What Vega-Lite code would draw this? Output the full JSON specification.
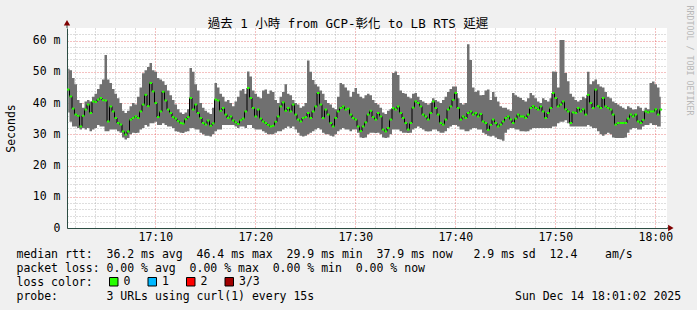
{
"$schema":"https://vega.github.io/schema/vega-lite/v6.json",
"width":600,"height":200,
"autosize":"none",
"padding":{"left":67,"top":28,"right":30,"bottom":82},
"background":"#f0f0f0",
"title":{"text":"過去 1 小時 from GCP-彰化 to LB RTS 延遲","font":"DejaVu Sans Mono, Noto Sans CJK TC","fontSize":12.5,"fontWeight":"normal","color":"#000000","anchor":"middle","dx":-19,"dy":26,"offset":1},
"config":{
 "view":{"fill":"#ffffff","stroke":null},
 "axis":{"labelFont":"DejaVu Sans Mono","labelFontSize":11.5,"labelColor":"#000000","titleFont":"DejaVu Sans Mono","titleFontSize":11.5,"titleFontWeight":"normal","titleColor":"#000000","ticks":false,"tickSize":0,"domainColor":"#2c4d43","labelOverlap":false,"labelFlush":false,"gridDash":[1,2],"gridOpacity":0.6}
},
"data":{"values":[
{"t":1.2917,"lo":37,"hi":51,"med":44.3,"loss":"0"},
{"t":1.5417,"lo":34,"hi":50.5,"med":42.1,"loss":"0"},
{"t":1.7917,"lo":32.5,"hi":48,"med":38.2,"loss":"0"},
{"t":2.0417,"lo":32.5,"hi":46,"med":36.3,"loss":"0"},
{"t":2.2917,"lo":32,"hi":41,"med":35.9,"loss":"0"},
{"t":2.5417,"lo":31.5,"hi":40,"med":32.5,"loss":"0"},
{"t":2.7917,"lo":32,"hi":38.5,"med":35.9,"loss":"0"},
{"t":3.0417,"lo":31.5,"hi":40.5,"med":37.9,"loss":"0"},
{"t":3.2917,"lo":32,"hi":41,"med":39.5,"loss":"0"},
{"t":3.5417,"lo":31,"hi":40.5,"med":36.8,"loss":"0"},
{"t":3.7917,"lo":31.5,"hi":42,"med":40.5,"loss":"0"},
{"t":4.0417,"lo":32,"hi":43,"med":40.3,"loss":"0"},
{"t":4.2917,"lo":33,"hi":44.5,"med":41.1,"loss":"0"},
{"t":4.5417,"lo":32.5,"hi":46,"med":41.6,"loss":"0"},
{"t":4.7917,"lo":32.5,"hi":47.5,"med":40.9,"loss":"0"},
{"t":5.0417,"lo":31,"hi":55.4,"med":40.8,"loss":"0"},
{"t":5.2917,"lo":31,"hi":47.5,"med":34.1,"loss":"0"},
{"t":5.5417,"lo":31.5,"hi":46.4,"med":38.9,"loss":"0"},
{"t":5.7917,"lo":31.5,"hi":44.5,"med":37.3,"loss":"0"},
{"t":6.0417,"lo":31.5,"hi":43,"med":35.2,"loss":"0"},
{"t":6.2917,"lo":31,"hi":41.5,"med":33.6,"loss":"0"},
{"t":6.5417,"lo":30.5,"hi":40,"med":33.1,"loss":"0"},
{"t":6.7917,"lo":29,"hi":37.5,"med":30.9,"loss":"0"},
{"t":7.0417,"lo":28.3,"hi":36.8,"med":29.9,"loss":"0"},
{"t":7.2917,"lo":28.8,"hi":37.5,"med":30.9,"loss":"0"},
{"t":7.5417,"lo":30,"hi":39,"med":34.7,"loss":"0"},
{"t":7.7917,"lo":30.5,"hi":40,"med":35.2,"loss":"0"},
{"t":8.0417,"lo":30.4,"hi":39.5,"med":35.7,"loss":"0"},
{"t":8.2917,"lo":30.5,"hi":42,"med":35.2,"loss":"0"},
{"t":8.5417,"lo":31.5,"hi":45,"med":37.3,"loss":"0"},
{"t":8.7917,"lo":32,"hi":49.5,"med":39.5,"loss":"0"},
{"t":9.0417,"lo":33,"hi":50.5,"med":42.6,"loss":"0"},
{"t":9.2917,"lo":32.5,"hi":51.5,"med":39.0,"loss":"0"},
{"t":9.5417,"lo":33.5,"hi":52.8,"med":46.4,"loss":"0"},
{"t":9.7917,"lo":33.5,"hi":50.5,"med":43.7,"loss":"0"},
{"t":10.0417,"lo":34,"hi":50,"med":40.0,"loss":"0"},
{"t":10.2917,"lo":33,"hi":48,"med":35.5,"loss":"0"},
{"t":10.5417,"lo":33,"hi":47.5,"med":37.3,"loss":"0"},
{"t":10.7917,"lo":33.5,"hi":47,"med":43.6,"loss":"0"},
{"t":11.0417,"lo":33,"hi":45.8,"med":40.8,"loss":"0"},
{"t":11.2917,"lo":32.5,"hi":44,"med":37.9,"loss":"0"},
{"t":11.5417,"lo":32.5,"hi":42.5,"med":36.8,"loss":"0"},
{"t":11.7917,"lo":32,"hi":41,"med":35.5,"loss":"0"},
{"t":12.0417,"lo":31,"hi":39.5,"med":35.0,"loss":"0"},
{"t":12.2917,"lo":30.8,"hi":38,"med":34.2,"loss":"0"},
{"t":12.5417,"lo":30.5,"hi":37,"med":33.6,"loss":"0"},
{"t":12.7917,"lo":30.4,"hi":36.5,"med":33.4,"loss":"0"},
{"t":13.0417,"lo":30.8,"hi":37,"med":34.8,"loss":"0"},
{"t":13.2917,"lo":31,"hi":38,"med":35.5,"loss":"0"},
{"t":13.5417,"lo":32,"hi":51.2,"med":41.6,"loss":"0"},
{"t":13.7917,"lo":32,"hi":50,"med":37.9,"loss":"0"},
{"t":14.0417,"lo":31.5,"hi":46,"med":39.5,"loss":"0"},
{"t":14.2917,"lo":31.5,"hi":44,"med":36.8,"loss":"0"},
{"t":14.5417,"lo":30.5,"hi":40,"med":35.2,"loss":"0"},
{"t":14.7917,"lo":30,"hi":38.5,"med":33.6,"loss":"0"},
{"t":15.0417,"lo":29.5,"hi":37.5,"med":33.1,"loss":"0"},
{"t":15.2917,"lo":29.5,"hi":37,"med":34.4,"loss":"0"},
{"t":15.5417,"lo":29.3,"hi":36.5,"med":32.7,"loss":"0"},
{"t":15.7917,"lo":30,"hi":38.5,"med":33.5,"loss":"0"},
{"t":16.0417,"lo":31,"hi":46.4,"med":41.1,"loss":"0"},
{"t":16.2917,"lo":31.5,"hi":45,"med":40.8,"loss":"0"},
{"t":16.5417,"lo":31.5,"hi":43,"med":37.5,"loss":"0"},
{"t":16.7917,"lo":33,"hi":42,"med":38.4,"loss":"0"},
{"t":17.0417,"lo":33,"hi":40.5,"med":36.3,"loss":"0"},
{"t":17.2917,"lo":33,"hi":41,"med":35.2,"loss":"0"},
{"t":17.5417,"lo":33,"hi":40,"med":35.7,"loss":"0"},
{"t":17.7917,"lo":33,"hi":39,"med":34.4,"loss":"0"},
{"t":18.0417,"lo":32.5,"hi":40.5,"med":33.8,"loss":"0"},
{"t":18.2917,"lo":32,"hi":42,"med":33.3,"loss":"0"},
{"t":18.5417,"lo":32.5,"hi":44,"med":34.5,"loss":"0"},
{"t":18.7917,"lo":32.5,"hi":44.5,"med":35.0,"loss":"0"},
{"t":19.0417,"lo":32,"hi":43,"med":37.3,"loss":"0"},
{"t":19.2917,"lo":33,"hi":50.1,"med":44.8,"loss":"0"},
{"t":19.5417,"lo":33,"hi":48.5,"med":41.6,"loss":"0"},
{"t":19.7917,"lo":32,"hi":44,"med":38.4,"loss":"0"},
{"t":20.0417,"lo":31.5,"hi":43,"med":35.7,"loss":"0"},
{"t":20.2917,"lo":31.5,"hi":42,"med":37.9,"loss":"0"},
{"t":20.5417,"lo":31.5,"hi":41.5,"med":35.0,"loss":"0"},
{"t":20.7917,"lo":31,"hi":44,"med":34.1,"loss":"0"},
{"t":21.0417,"lo":30.5,"hi":44.3,"med":33.6,"loss":"0"},
{"t":21.2917,"lo":30,"hi":43,"med":33.0,"loss":"0"},
{"t":21.5417,"lo":30,"hi":44,"med":32.5,"loss":"0"},
{"t":21.7917,"lo":30,"hi":43.5,"med":32.7,"loss":"0"},
{"t":22.0417,"lo":30.5,"hi":41,"med":34.0,"loss":"0"},
{"t":22.2917,"lo":31,"hi":40,"med":35.7,"loss":"0"},
{"t":22.5417,"lo":31,"hi":42,"med":38.9,"loss":"0"},
{"t":22.7917,"lo":31.5,"hi":43.5,"med":40.2,"loss":"0"},
{"t":23.0417,"lo":32,"hi":46,"med":37.5,"loss":"0"},
{"t":23.2917,"lo":32.5,"hi":43,"med":38.4,"loss":"0"},
{"t":23.5417,"lo":32,"hi":42.5,"med":37.3,"loss":"0"},
{"t":23.7917,"lo":32.5,"hi":41,"med":39.5,"loss":"0"},
{"t":24.0417,"lo":31.5,"hi":40,"med":36.3,"loss":"0"},
{"t":24.2917,"lo":30.5,"hi":39.5,"med":34.7,"loss":"0"},
{"t":24.5417,"lo":29.5,"hi":38.5,"med":34.1,"loss":"0"},
{"t":24.7917,"lo":29.3,"hi":39,"med":35.2,"loss":"0"},
{"t":25.0417,"lo":29.5,"hi":40,"med":35.5,"loss":"0"},
{"t":25.2917,"lo":30,"hi":53.6,"med":36.8,"loss":"0"},
{"t":25.5417,"lo":30.5,"hi":50,"med":35.2,"loss":"0"},
{"t":25.7917,"lo":31,"hi":47.4,"med":37.3,"loss":"0"},
{"t":26.0417,"lo":31.5,"hi":46,"med":38.9,"loss":"0"},
{"t":26.2917,"lo":32,"hi":45.3,"med":43.2,"loss":"0"},
{"t":26.5417,"lo":31.5,"hi":44,"med":39.5,"loss":"0"},
{"t":26.7917,"lo":30.5,"hi":43,"med":35.2,"loss":"0"},
{"t":27.0417,"lo":30,"hi":41,"med":37.9,"loss":"0"},
{"t":27.2917,"lo":30,"hi":40,"med":36.3,"loss":"0"},
{"t":27.5417,"lo":29.5,"hi":39.5,"med":33.6,"loss":"0"},
{"t":27.7917,"lo":29.3,"hi":38.5,"med":32.5,"loss":"0"},
{"t":28.0417,"lo":30,"hi":38,"med":35.2,"loss":"0"},
{"t":28.2917,"lo":31,"hi":42,"med":37.3,"loss":"0"},
{"t":28.5417,"lo":31.5,"hi":46.4,"med":38.4,"loss":"0"},
{"t":28.7917,"lo":32,"hi":46,"med":38.9,"loss":"0"},
{"t":29.0417,"lo":31.5,"hi":45,"med":37.9,"loss":"0"},
{"t":29.2917,"lo":31.5,"hi":44,"med":38.2,"loss":"0"},
{"t":29.5417,"lo":31,"hi":42,"med":36.3,"loss":"0"},
{"t":29.7917,"lo":31.5,"hi":43.5,"med":35.2,"loss":"0"},
{"t":30.0417,"lo":31.5,"hi":44.8,"med":34.7,"loss":"0"},
{"t":30.2917,"lo":30.5,"hi":43,"med":32.5,"loss":"0"},
{"t":30.5417,"lo":29,"hi":42,"med":31.0,"loss":"0"},
{"t":30.7917,"lo":28.8,"hi":41.5,"med":32.5,"loss":"0"},
{"t":31.0417,"lo":29,"hi":42.5,"med":33.8,"loss":"0"},
{"t":31.2917,"lo":30,"hi":43,"med":36.3,"loss":"0"},
{"t":31.5417,"lo":30.5,"hi":42.5,"med":37.5,"loss":"0"},
{"t":31.7917,"lo":30.5,"hi":41,"med":35.5,"loss":"0"},
{"t":32.0417,"lo":30.4,"hi":40,"med":34.7,"loss":"0"},
{"t":32.2917,"lo":30.5,"hi":39.5,"med":36.8,"loss":"0"},
{"t":32.5417,"lo":30,"hi":38.5,"med":35.7,"loss":"0"},
{"t":32.7917,"lo":29,"hi":37,"med":31.5,"loss":"0"},
{"t":33.0417,"lo":28.8,"hi":36.5,"med":30.9,"loss":"0"},
{"t":33.2917,"lo":29,"hi":37.5,"med":32.0,"loss":"0"},
{"t":33.5417,"lo":30,"hi":38,"med":34.7,"loss":"0"},
{"t":33.7917,"lo":31.5,"hi":49.6,"med":38.4,"loss":"0"},
{"t":34.0417,"lo":31.5,"hi":50.1,"med":37.9,"loss":"0"},
{"t":34.2917,"lo":31.5,"hi":49,"med":38.9,"loss":"0"},
{"t":34.5417,"lo":31,"hi":44,"med":36.8,"loss":"0"},
{"t":34.7917,"lo":30.5,"hi":43.2,"med":35.2,"loss":"0"},
{"t":35.0417,"lo":30.5,"hi":43,"med":33.6,"loss":"0"},
{"t":35.2917,"lo":30.4,"hi":42,"med":31.5,"loss":"0"},
{"t":35.5417,"lo":30.5,"hi":41.5,"med":33.6,"loss":"0"},
{"t":35.7917,"lo":31.5,"hi":43,"med":38.5,"loss":"0"},
{"t":36.0417,"lo":32,"hi":43.2,"med":40.5,"loss":"0"},
{"t":36.2917,"lo":32.5,"hi":42,"med":40.0,"loss":"0"},
{"t":36.5417,"lo":32,"hi":41,"med":38.9,"loss":"0"},
{"t":36.7917,"lo":31.5,"hi":40.5,"med":36.3,"loss":"0"},
{"t":37.0417,"lo":31,"hi":40,"med":35.7,"loss":"0"},
{"t":37.2917,"lo":30.9,"hi":39.5,"med":34.7,"loss":"0"},
{"t":37.5417,"lo":31,"hi":40,"med":36.8,"loss":"0"},
{"t":37.7917,"lo":31.5,"hi":41.5,"med":40.5,"loss":"0"},
{"t":38.0417,"lo":31.5,"hi":41,"med":38.4,"loss":"0"},
{"t":38.2917,"lo":31,"hi":40.5,"med":36.3,"loss":"0"},
{"t":38.5417,"lo":30.5,"hi":40,"med":33.6,"loss":"0"},
{"t":38.7917,"lo":30.5,"hi":41,"med":33.1,"loss":"0"},
{"t":39.0417,"lo":31,"hi":42,"med":34.7,"loss":"0"},
{"t":39.2917,"lo":32,"hi":43.5,"med":37.9,"loss":"0"},
{"t":39.5417,"lo":32.5,"hi":44.5,"med":38.9,"loss":"0"},
{"t":39.7917,"lo":33,"hi":45.3,"med":41.0,"loss":"0"},
{"t":40.0417,"lo":33,"hi":45.3,"med":43.2,"loss":"0"},
{"t":40.2917,"lo":32.5,"hi":41.5,"med":38.4,"loss":"0"},
{"t":40.5417,"lo":31.5,"hi":40,"med":34.7,"loss":"0"},
{"t":40.7917,"lo":31.5,"hi":39.5,"med":35.7,"loss":"0"},
{"t":41.0417,"lo":31,"hi":40,"med":35.2,"loss":"0"},
{"t":41.2917,"lo":31,"hi":58.8,"med":36.8,"loss":"0"},
{"t":41.5417,"lo":31.5,"hi":53.8,"med":37.3,"loss":"0"},
{"t":41.7917,"lo":32,"hi":45,"med":36.3,"loss":"0"},
{"t":42.0417,"lo":32,"hi":43.5,"med":36.8,"loss":"0"},
{"t":42.2917,"lo":31.5,"hi":44,"med":35.7,"loss":"0"},
{"t":42.5417,"lo":31.5,"hi":42.5,"med":36.5,"loss":"0"},
{"t":42.7917,"lo":30.5,"hi":42.6,"med":34.1,"loss":"0"},
{"t":43.0417,"lo":30,"hi":44,"med":33.6,"loss":"0"},
{"t":43.2917,"lo":29.5,"hi":44.3,"med":31.4,"loss":"0"},
{"t":43.5417,"lo":29.3,"hi":41,"med":33.0,"loss":"0"},
{"t":43.7917,"lo":29.5,"hi":43.5,"med":34.7,"loss":"0"},
{"t":44.0417,"lo":29,"hi":42,"med":33.6,"loss":"0"},
{"t":44.2917,"lo":28.5,"hi":40.5,"med":32.5,"loss":"0"},
{"t":44.5417,"lo":28.3,"hi":39,"med":33.1,"loss":"0"},
{"t":44.7917,"lo":27.9,"hi":38.5,"med":34.1,"loss":"0"},
{"t":45.0417,"lo":30.5,"hi":38.5,"med":35.2,"loss":"0"},
{"t":45.2917,"lo":31.5,"hi":37.9,"med":35.7,"loss":"0"},
{"t":45.5417,"lo":32,"hi":37.5,"med":34.7,"loss":"0"},
{"t":45.7917,"lo":32,"hi":43.2,"med":33.6,"loss":"0"},
{"t":46.0417,"lo":31.5,"hi":42.5,"med":35.0,"loss":"0"},
{"t":46.2917,"lo":31.5,"hi":42,"med":36.3,"loss":"0"},
{"t":46.5417,"lo":31,"hi":41.6,"med":35.7,"loss":"0"},
{"t":46.7917,"lo":31,"hi":41,"med":35.7,"loss":"0"},
{"t":47.0417,"lo":30.9,"hi":40.5,"med":35.2,"loss":"0"},
{"t":47.2917,"lo":31,"hi":41.5,"med":36.3,"loss":"0"},
{"t":47.5417,"lo":31.5,"hi":43.2,"med":38.4,"loss":"0"},
{"t":47.7917,"lo":32,"hi":42.5,"med":39.0,"loss":"0"},
{"t":48.0417,"lo":32,"hi":41.5,"med":38.4,"loss":"0"},
{"t":48.2917,"lo":32,"hi":40.5,"med":37.9,"loss":"0"},
{"t":48.5417,"lo":32,"hi":40,"med":38.9,"loss":"0"},
{"t":48.7917,"lo":32,"hi":41.5,"med":37.3,"loss":"0"},
{"t":49.0417,"lo":32,"hi":41,"med":35.2,"loss":"0"},
{"t":49.2917,"lo":32,"hi":40.5,"med":36.8,"loss":"0"},
{"t":49.5417,"lo":32,"hi":41.5,"med":38.4,"loss":"0"},
{"t":49.7917,"lo":32.5,"hi":50.1,"med":43.2,"loss":"0"},
{"t":50.0417,"lo":32.5,"hi":50,"med":41.6,"loss":"0"},
{"t":50.2917,"lo":33.5,"hi":45,"med":38.9,"loss":"0"},
{"t":50.5417,"lo":34,"hi":60.2,"med":39.5,"loss":"0"},
{"t":50.7917,"lo":34,"hi":60.2,"med":40.5,"loss":"0"},
{"t":51.0417,"lo":34.5,"hi":49.6,"med":38.0,"loss":"0"},
{"t":51.2917,"lo":33.5,"hi":47,"med":37.3,"loss":"0"},
{"t":51.5417,"lo":32.5,"hi":43,"med":33.6,"loss":"0"},
{"t":51.7917,"lo":32.5,"hi":42,"med":37.0,"loss":"0"},
{"t":52.0417,"lo":32.5,"hi":41,"med":36.8,"loss":"0"},
{"t":52.2917,"lo":32.5,"hi":40.5,"med":38.4,"loss":"0"},
{"t":52.5417,"lo":32.5,"hi":41,"med":37.3,"loss":"0"},
{"t":52.7917,"lo":32.5,"hi":42,"med":38.0,"loss":"0"},
{"t":53.0417,"lo":32.5,"hi":41.5,"med":36.3,"loss":"0"},
{"t":53.2917,"lo":33,"hi":50,"med":42.6,"loss":"0"},
{"t":53.5417,"lo":32.5,"hi":46,"med":40.0,"loss":"0"},
{"t":53.7917,"lo":32,"hi":47,"med":38.4,"loss":"0"},
{"t":54.0417,"lo":32,"hi":47.5,"med":44.3,"loss":"0"},
{"t":54.2917,"lo":31,"hi":46,"med":39.0,"loss":"0"},
{"t":54.5417,"lo":30,"hi":45.3,"med":38.4,"loss":"0"},
{"t":54.7917,"lo":29.5,"hi":45,"med":41.6,"loss":"0"},
{"t":55.0417,"lo":30,"hi":43.5,"med":38.9,"loss":"0"},
{"t":55.2917,"lo":30.5,"hi":42,"med":38.4,"loss":"0"},
{"t":55.5417,"lo":30,"hi":41.5,"med":37.9,"loss":"0"},
{"t":55.7917,"lo":29,"hi":40.5,"med":36.3,"loss":"0"},
{"t":56.0417,"lo":28.8,"hi":40,"med":33.1,"loss":"0"},
{"t":56.2917,"lo":28.8,"hi":39.5,"med":33.6,"loss":"0"},
{"t":56.5417,"lo":28.8,"hi":39,"med":33.6,"loss":"0"},
{"t":56.7917,"lo":28.8,"hi":38.5,"med":33.6,"loss":"0"},
{"t":57.0417,"lo":29,"hi":38,"med":33.6,"loss":"0"},
{"t":57.2917,"lo":30.5,"hi":39,"med":35.0,"loss":"0"},
{"t":57.5417,"lo":31.5,"hi":38.5,"med":36.3,"loss":"0"},
{"t":57.7917,"lo":32,"hi":37.9,"med":35.7,"loss":"0"},
{"t":58.0417,"lo":32,"hi":38,"med":36.3,"loss":"0"},
{"t":58.2917,"lo":31.5,"hi":39,"med":34.1,"loss":"0"},
{"t":58.5417,"lo":31.5,"hi":38.5,"med":33.6,"loss":"0"},
{"t":58.7917,"lo":32.5,"hi":37.5,"med":34.6,"loss":"0"},
{"t":59.0417,"lo":33,"hi":38.5,"med":37.3,"loss":"0"},
{"t":59.2917,"lo":33,"hi":38,"med":37.0,"loss":"0"},
{"t":59.5417,"lo":33.5,"hi":46.4,"med":37.3,"loss":"0"},
{"t":59.7917,"lo":33,"hi":46.9,"med":37.3,"loss":"0"},
{"t":60.0417,"lo":33,"hi":46,"med":38.0,"loss":"0"},
{"t":60.2917,"lo":32.5,"hi":45,"med":36.3,"loss":"0"},
{"t":60.5417,"lo":32.5,"hi":42,"med":37.9,"loss":"0"}
]},
"resolve":{"axis":{"x":"independent","y":"independent"}},
"layer":[
 {"mark":{"type":"area","interpolate":"step","color":"#707070"},
  "encoding":{
   "x":{"field":"t","type":"quantitative","scale":{"domain":[1.1667,61.1667],"nice":false,"zero":false},
     "axis":{"values":[2,4,6,8,10,12,14,16,18,20,22,24,26,28,30,32,34,36,38,40,42,44,46,48,50,52,54,56,58,60],
       "grid":true,
       "gridColor":{"condition":{"test":"datum.value % 10 === 0","value":"#de3030"},"value":"#8f8f8f"},
       "labelExpr":"datum.value % 10 === 0 ? (datum.value === 60 ? '18:00' : '17:' + datum.value) : ''",
       "labelPadding":3,
       "title":["median rtt:\u00a0\u00a036.2 ms avg\u00a0\u00a046.4 ms max\u00a0\u00a029.9 ms min\u00a0\u00a037.9 ms now\u00a0\u00a0\u00a02.9 ms sd\u00a0\u00a012.4\u00a0\u00a0\u00a0\u00a0am/s",
                "packet loss: 0.00 % avg\u00a0\u00a00.00 % max\u00a0\u00a00.00 % min\u00a0\u00a00.00 % now",
                "loss color:",
                "probe:\u00a0\u00a0\u00a0\u00a0\u00a0\u00a0\u00a03 URLs using curl(1) every 15s\u00a0\u00a0\u00a0\u00a0\u00a0\u00a0\u00a0\u00a0\u00a0\u00a0\u00a0\u00a0\u00a0\u00a0\u00a0\u00a0\u00a0\u00a0\u00a0\u00a0\u00a0\u00a0\u00a0\u00a0\u00a0\u00a0\u00a0\u00a0\u00a0Sun Dec 14 18:01:02 2025"],
       "titleAnchor":"start","titleAlign":"left","titleX":-51,"titleY":29,"titleBaseline":"alphabetic","titleLineHeight":14}},
   "y":{"field":"hi","type":"quantitative","scale":{"domain":[0,64],"nice":false},
     "axis":{"values":[0,2,4,6,8,10,12,14,16,18,20,22,24,26,28,30,32,34,36,38,40,42,44,46,48,50,52,54,56,58,60,62],
       "grid":true,
       "gridColor":{"condition":{"test":"datum.value % 10 === 0","value":"#de3030"},"value":"#8f8f8f"},
       "labelExpr":"datum.value % 10 === 0 ? (datum.value === 0 ? '0\u00a0\u00a0' : datum.value + ' m') : ''",
       "labelPadding":7,
       "title":"Seconds","titleX":-56,"titleY":100,"titleAngle":-90,"titleBaseline":"middle","titleAlign":"center"}},
   "y2":{"field":"lo"}
  }},
 {"mark":{"type":"line","interpolate":"step","color":"#000000","strokeWidth":1},
  "encoding":{"x":{"field":"t","type":"quantitative","axis":null},"y":{"field":"med","type":"quantitative","axis":null}}},
 {"mark":{"type":"tick","orient":"horizontal","thickness":2,"size":2.5,"opacity":1},
  "encoding":{"x":{"field":"t","type":"quantitative","axis":null},"y":{"field":"med","type":"quantitative","axis":null},
   "color":{"field":"loss","type":"nominal","scale":{"domain":["0","1","2","3/3"],"range":["#26ff00","#00b8ff","#ff0000","#a10000"]},
     "legend":{"orient":"none","legendX":41,"legendY":248,"direction":"horizontal","title":null,"symbolType":"square","symbolSize":72,"symbolStrokeColor":"#000000","symbolStrokeWidth":1,"labelFont":"DejaVu Sans Mono","labelFontSize":11.5,"labelColor":"#000000","labelOffset":4,"columnPadding":14.5,"padding":0,
       "encode":{"symbols":{"update":{"stroke":{"value":"#000000"},"strokeWidth":{"value":1},"opacity":{"value":1},"fillOpacity":{"value":1}}}}}}}},
 {"data":{"values":[{}]},
  "mark":{"type":"rule","color":"#2c4d43"},
  "encoding":{"x":{"datum":1.1667,"type":"quantitative","axis":null},
   "y":{"datum":64,"type":"quantitative","axis":{"orient":"right","title":"RRDTOOL / TOBI OETIKER","labels":false,"ticks":false,"domain":false,"grid":false,"titleAngle":90,"titleFontSize":8.3,"titleColor":"#b8b8b8","titleX":21,"titleY":-23,"titleAlign":"left","titleBaseline":"middle"}},
   "y2":{"datum":65.2}}},
 {"data":{"values":[{}]},
  "mark":{"type":"point","shape":"triangle-up","filled":true,"color":"#7f0000","size":40,"opacity":1},
  "encoding":{"x":{"datum":1.1667,"type":"quantitative","axis":null},"y":{"datum":65.7,"type":"quantitative","axis":null}}},
 {"data":{"values":[{}]},
  "mark":{"type":"rule","color":"#2c4d43"},
  "encoding":{"x":{"datum":61.1667,"type":"quantitative","axis":null},"x2":{"datum":61.45},"y":{"datum":0,"type":"quantitative","axis":null}}},
 {"data":{"values":[{}]},
  "mark":{"type":"point","shape":"triangle-right","filled":true,"color":"#7f0000","size":40,"opacity":1},
  "encoding":{"x":{"datum":61.55,"type":"quantitative","axis":null},"y":{"datum":0,"type":"quantitative","axis":null}}}
]
}
